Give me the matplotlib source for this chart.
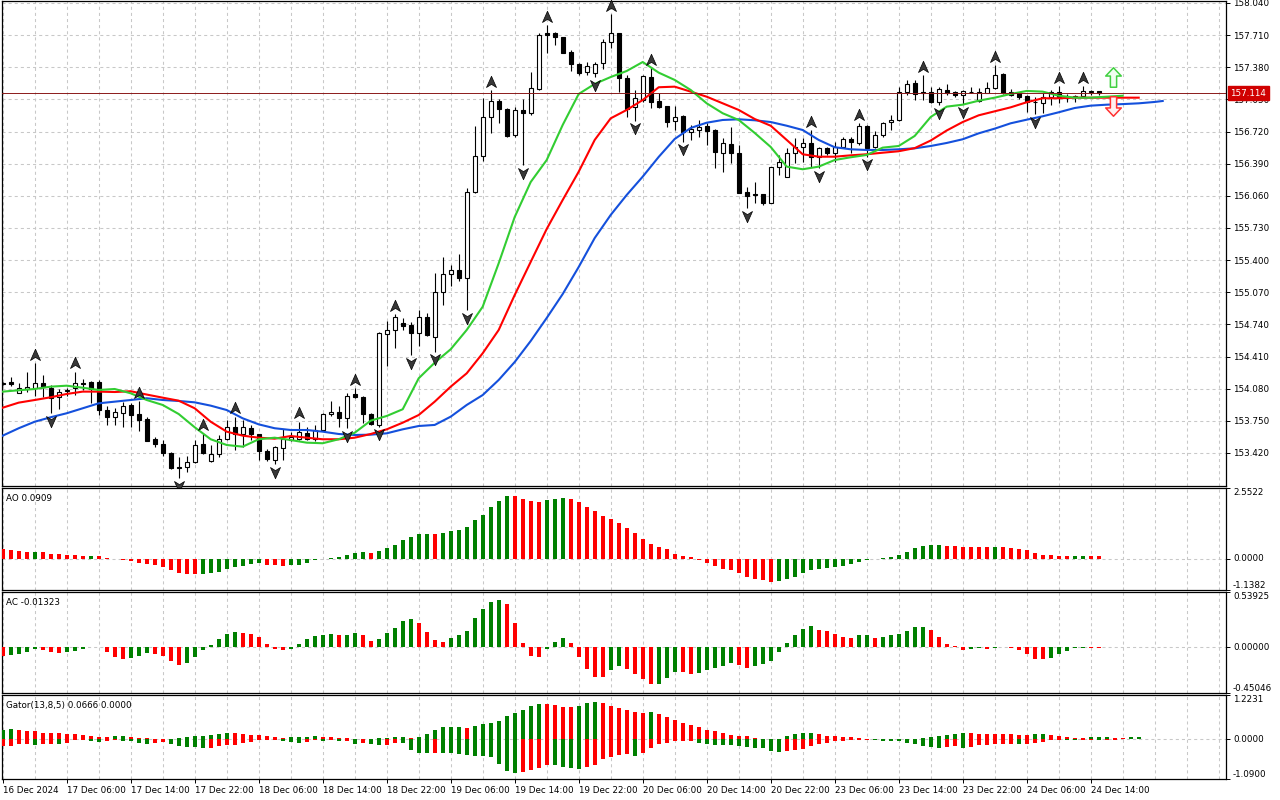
import numpy as np
import matplotlib
matplotlib.use("Agg")
import matplotlib.pyplot as plt
from matplotlib.path import Path
from matplotlib.transforms import ScaledTranslation, blended_transform_factory

plt.rcParams['font.family'] = ['DejaVu Sans']
plt.rcParams['lines.scale_dashes'] = False
FS = 6.3

# ------------------------------------------------------------------ data
time_labels = ["16 Dec 2024", "17 Dec 06:00", "17 Dec 14:00", "17 Dec 22:00", "18 Dec 06:00",
               "18 Dec 14:00", "18 Dec 22:00", "19 Dec 06:00", "19 Dec 14:00", "19 Dec 22:00",
               "20 Dec 06:00", "20 Dec 14:00", "20 Dec 22:00", "23 Dec 06:00", "23 Dec 14:00",
               "23 Dec 22:00", "24 Dec 06:00", "24 Dec 14:00"]
price_ticks = [158.040, 157.710, 157.380, 157.050, 156.720, 156.390, 156.060, 155.730,
               155.400, 155.070, 154.740, 154.410, 154.080, 153.750, 153.420]
bid_price = 157.114

opens = [154.125, 154.152, 154.039, 154.080, 154.084, 154.142, 154.090, 153.992, 154.055, 154.084,
         154.142, 154.146, 154.152, 153.862, 153.787, 153.834, 153.913, 153.821, 153.769, 153.561,
         153.510, 153.418, 153.276, 153.273, 153.331, 153.510, 153.341, 153.407, 153.561, 153.684,
         153.612, 153.674, 153.612, 153.441, 153.350, 153.469, 153.554, 153.561, 153.623, 153.561,
         153.656, 153.818, 153.838, 153.776, 154.023, 153.999, 153.818, 153.708, 154.639, 154.683,
         154.758, 154.734, 154.655, 154.813, 154.614, 155.076, 155.255, 155.299, 155.214, 156.097,
         156.469, 156.867, 157.034, 156.949, 156.685, 156.942, 156.908, 157.154, 157.729, 157.729,
         157.688, 157.534, 157.411, 157.329, 157.318, 157.427, 157.637, 157.729, 157.267, 156.970,
         157.044, 157.284, 157.034, 156.983, 156.832, 156.880, 156.719, 156.736, 156.777, 156.736,
         156.503, 156.589, 156.497, 156.097, 156.079, 156.079, 155.990, 156.353, 156.257, 156.497,
         156.559, 156.600, 156.456, 156.548, 156.503, 156.565, 156.641, 156.600, 156.780, 156.559,
         156.685, 156.815, 156.839, 157.130, 157.216, 157.123, 157.130, 157.021, 157.147, 157.130,
         157.096, 157.130, 157.037, 157.119, 157.171, 157.311, 157.130, 157.113, 157.085, 157.024,
         157.010, 157.072, 157.130, 157.075, 157.075, 157.085, 157.130, 157.137]
highs = [154.150, 154.197, 154.136, 154.252, 154.341, 154.221, 154.118, 154.077, 154.090, 154.255,
         154.177, 154.160, 154.169, 153.903, 153.879, 153.947, 153.930, 153.950, 153.793, 153.587,
         153.554, 153.430, 153.382, 153.389, 153.554, 153.620, 153.502, 153.605, 153.759, 153.793,
         153.759, 153.708, 153.620, 153.458, 153.492, 153.664, 153.639, 153.742, 153.684, 153.708,
         153.830, 153.954, 153.903, 154.033, 154.085, 154.009, 153.828, 154.665, 154.775, 154.847,
         154.803, 154.768, 154.888, 154.854, 155.265, 155.429, 155.350, 155.463, 156.138, 156.777,
         157.062, 157.147, 157.052, 156.959, 156.969, 157.052, 157.335, 157.729, 157.814, 157.739,
         157.691, 157.558, 157.427, 157.438, 157.438, 157.670, 157.927, 157.735, 157.301, 157.147,
         157.301, 157.370, 157.119, 156.985, 156.983, 156.890, 156.788, 156.839, 156.805, 156.744,
         156.651, 156.770, 156.582, 156.154, 156.206, 156.079, 156.360, 156.480, 156.548, 156.651,
         156.651, 156.736, 156.565, 156.565, 156.616, 156.668, 156.668, 156.805, 156.785, 156.729,
         156.822, 156.890, 157.175, 157.250, 157.250, 157.301, 157.181, 157.181, 157.206, 157.137,
         157.147, 157.181, 157.164, 157.232, 157.404, 157.318, 157.154, 157.130, 157.096, 157.072,
         157.113, 157.147, 157.188, 157.106, 157.096, 157.188, 157.147, 157.137]
lows = [154.115, 154.110, 154.033, 154.050, 154.000, 153.992, 153.828, 153.869, 154.000, 154.015,
        154.067, 153.930, 153.810, 153.708, 153.708, 153.684, 153.684, 153.649, 153.543, 153.485,
        153.390, 153.256, 153.160, 153.228, 153.321, 153.410, 153.331, 153.382, 153.554, 153.451,
        153.485, 153.554, 153.350, 153.341, 153.307, 153.350, 153.543, 153.554, 153.554, 153.543,
        153.646, 153.803, 153.690, 153.674, 153.982, 153.731, 153.708, 153.690, 154.316, 154.495,
        154.683, 154.426, 154.519, 154.621, 154.460, 154.940, 155.135, 155.189, 154.888, 156.093,
        156.421, 156.709, 156.811, 156.668, 156.668, 156.377, 156.890, 157.147, 157.524, 157.609,
        157.524, 157.342, 157.301, 157.301, 157.280, 157.360, 157.575, 157.130, 156.873, 156.832,
        157.027, 156.959, 156.959, 156.770, 156.736, 156.616, 156.634, 156.668, 156.582, 156.343,
        156.308, 156.394, 156.090, 155.932, 155.984, 155.966, 155.984, 156.274, 156.251, 156.401,
        156.411, 156.360, 156.343, 156.480, 156.411, 156.548, 156.497, 156.582, 156.462, 156.548,
        156.668, 156.736, 156.832, 157.096, 157.044, 157.044, 157.015, 156.993, 157.096, 157.079,
        157.003, 157.113, 157.027, 157.113, 157.154, 157.106, 157.085, 157.051, 156.924, 156.900,
        156.915, 156.993, 157.010, 157.027, 157.027, 157.079, 157.096, 157.096]
closes = [154.135, 154.125, 154.090, 154.095, 154.142, 154.101, 153.980, 154.050, 154.065, 154.136,
          154.125, 154.074, 153.862, 153.787, 153.838, 153.903, 153.810, 153.759, 153.546, 153.510,
          153.418, 153.263, 153.266, 153.331, 153.502, 153.418, 153.407, 153.564, 153.684, 153.615,
          153.684, 153.612, 153.441, 153.355, 153.480, 153.561, 153.581, 153.633, 153.561, 153.656,
          153.818, 153.838, 153.776, 154.008, 153.999, 153.818, 153.718, 154.655, 154.683, 154.813,
          154.727, 154.655, 154.813, 154.632, 155.070, 155.255, 155.299, 155.214, 156.097, 156.469,
          156.867, 157.034, 156.949, 156.675, 156.942, 156.908, 157.164, 157.712, 157.709, 157.688,
          157.530, 157.411, 157.318, 157.396, 157.414, 157.637, 157.729, 157.273, 156.949, 157.062,
          157.291, 157.027, 156.970, 156.821, 156.873, 156.719, 156.744, 156.764, 156.729, 156.513,
          156.600, 156.497, 156.093, 156.062, 156.066, 155.990, 156.353, 156.411, 156.503, 156.559,
          156.600, 156.456, 156.548, 156.497, 156.565, 156.641, 156.616, 156.780, 156.548, 156.685,
          156.811, 156.839, 157.130, 157.206, 157.106, 157.116, 157.021, 157.154, 157.113, 157.096,
          157.137, 157.130, 157.130, 157.171, 157.301, 157.113, 157.096, 157.072, 157.027, 157.022,
          157.078, 157.130, 157.078, 157.089, 157.085, 157.137, 157.132, 157.114]

fractal_up = [4, 9, 17, 25, 29, 37, 44, 49, 61, 68, 76, 81, 101, 107, 115, 124, 132, 135]
fractal_down = [6, 22, 34, 43, 47, 51, 54, 58, 65, 74, 79, 85, 93, 102, 108, 117, 120, 129]

# Alligator lines (sampled every 2 bars; they run past the last candle by their shift)
lips_x = list(range(0, 141, 2))
lips = [154.050, 154.064, 154.077, 154.101, 154.111, 154.090, 154.067, 154.077, 154.033, 153.964,
        153.913, 153.820, 153.684, 153.561, 153.502, 153.485, 153.561, 153.577, 153.553, 153.526,
        153.520, 153.561, 153.628, 153.752, 153.800, 153.869, 154.187, 154.347, 154.485, 154.683,
        154.922, 155.368, 155.843, 156.202, 156.428, 156.788, 157.106, 157.209, 157.280, 157.342,
        157.434, 157.325, 157.250, 157.147, 157.010, 156.908, 156.839, 156.706, 156.562, 156.360,
        156.333, 156.360, 156.428, 156.456, 156.480, 156.555, 156.572, 156.675, 156.870, 156.976,
        156.996, 157.037, 157.068, 157.106, 157.137, 157.130, 157.088, 157.068, 157.068, 157.078,
        157.088]
teeth_x = list(range(0, 143, 2))
teeth = [153.885, 153.937, 153.964, 153.992, 154.026, 154.050, 154.050, 154.046, 154.054, 154.020,
         153.988, 153.957, 153.879, 153.741, 153.639, 153.598, 153.577, 153.567, 153.594, 153.577,
         153.561, 153.561, 153.577, 153.615, 153.663, 153.731, 153.810, 153.947, 154.101, 154.238,
         154.444, 154.683, 155.042, 155.382, 155.720, 156.018, 156.308, 156.634, 156.856, 156.942,
         157.044, 157.175, 157.181, 157.130, 157.078, 157.010, 156.942, 156.849, 156.780, 156.634,
         156.487, 156.462, 156.462, 156.476, 156.487, 156.503, 156.518, 156.550, 156.628, 156.731,
         156.818, 156.887, 156.928, 156.969, 157.021, 157.062, 157.062, 157.068, 157.068, 157.068,
         157.068, 157.068]
jaw_x = list(range(0, 145, 2)) + [145]
jaw = [153.598, 153.674, 153.741, 153.787, 153.828, 153.879, 153.930, 153.947, 153.964, 153.982,
       153.964, 153.954, 153.940, 153.906, 153.861, 153.776, 153.714, 153.674, 153.656, 153.656,
       153.639, 153.615, 153.605, 153.608, 153.622, 153.663, 153.697, 153.708, 153.793, 153.913,
       154.015, 154.170, 154.354, 154.570, 154.806, 155.052, 155.330, 155.627, 155.864, 156.069,
       156.257, 156.460, 156.644, 156.757, 156.811, 156.839, 156.846, 156.836, 156.818, 156.780,
       156.736, 156.634, 156.559, 156.538, 156.531, 156.531, 156.538, 156.548, 156.572, 156.603,
       156.641, 156.702, 156.750, 156.805, 156.842, 156.877, 156.918, 156.962, 156.986, 156.996,
       157.002, 157.010, 157.024, 157.034]

# Awesome Oscillator
ao_values = [0.340, 0.316, 0.280, 0.243, 0.245, 0.242, 0.170, 0.168, 0.134, 0.132,
             0.097, 0.099, 0.095, 0.024, -0.012, -0.036, -0.097, -0.158, -0.194, -0.219,
             -0.304, -0.413, -0.510, -0.545, -0.550, -0.548, -0.510, -0.474, -0.365, -0.290,
             -0.255, -0.180, -0.175, -0.220, -0.225, -0.255, -0.250, -0.220, -0.146, -0.060,
             -0.024, 0.024, 0.060, 0.134, 0.207, 0.243, 0.207, 0.280, 0.390, 0.500,
             0.680, 0.790, 0.887, 0.890, 0.885, 0.935, 1.010, 1.045, 1.154, 1.385,
             1.590, 1.847, 2.066, 2.248, 2.245, 2.140, 2.066, 2.030, 2.100, 2.140,
             2.175, 2.140, 2.050, 1.850, 1.710, 1.550, 1.430, 1.280, 1.100, 0.940,
             0.720, 0.540, 0.430, 0.330, 0.180, 0.100, 0.040, -0.040, -0.150, -0.260,
             -0.370, -0.400, -0.510, -0.670, -0.730, -0.770, -0.850, -0.800, -0.730, -0.660,
             -0.520, -0.430, -0.380, -0.330, -0.290, -0.260, -0.180, -0.120, -0.050, -0.020,
             0.005, 0.050, 0.130, 0.240, 0.370, 0.440, 0.500, 0.505, 0.460, 0.455,
             0.430, 0.425, 0.420, 0.415, 0.420, 0.415, 0.390, 0.350, 0.320, 0.210,
             0.130, 0.125, 0.100, 0.095, 0.098, 0.102, 0.097, 0.0909]
ao_colors = ("rrrrgrrrrr" "rgrrrrrrrr" "rrrrrggggg" "gggrrrgggg" "ggggggrggg"
             "ggggrggggg" "ggggrrrrgg" "grrrrrrrrr" "rrrrrrrrrr" "rrrrrrrggg"
             "gggggggggg" "ggggggggrr" "rrrrgrrrrr" "rrrrggrr")

# Accelerator Oscillator
ac_values = [-0.083, -0.080, -0.073, -0.053, -0.020, -0.025, -0.053, -0.055, -0.050, -0.043,
             -0.020, -0.004, -0.002, -0.053, -0.093, -0.113, -0.103, -0.083, -0.063, -0.073,
             -0.083, -0.133, -0.173, -0.153, -0.093, -0.033, 0.020, 0.077, 0.127, 0.147,
             0.137, 0.127, 0.097, 0.027, -0.020, -0.033, -0.020, 0.027, 0.077, 0.107,
             0.117, 0.127, 0.117, 0.118, 0.137, 0.117, 0.057, 0.077, 0.137, 0.183,
             0.253, 0.273, 0.233, 0.147, 0.067, 0.047, 0.087, 0.117, 0.157, 0.283,
             0.373, 0.446, 0.463, 0.426, 0.236, 0.037, -0.083, -0.093, -0.023, 0.047,
             0.090, 0.035, -0.093, -0.213, -0.293, -0.295, -0.227, -0.183, -0.213, -0.263,
             -0.313, -0.363, -0.360, -0.303, -0.243, -0.245, -0.263, -0.253, -0.223, -0.203,
             -0.183, -0.153, -0.173, -0.203, -0.183, -0.163, -0.133, -0.053, 0.043, 0.117,
             0.180, 0.203, 0.163, 0.153, 0.123, 0.103, 0.093, 0.117, 0.120, 0.093,
             0.103, 0.113, 0.127, 0.160, 0.193, 0.195, 0.163, 0.103, 0.033, 0.007,
             -0.033, -0.020, -0.013, -0.016, -0.005, -0.003, -0.013, -0.033, -0.073, -0.120,
             -0.122, -0.103, -0.073, -0.043, -0.013, -0.007, -0.010, -0.01323]
ac_colors = ("rggggrrrgg" "gggrrrgggr" "rrrggggggg" "rrrrrrgggg" "ggrggrrggg"
             "ggrrrrgggg" "gggrrrrrgg" "grrrrrggrr" "rrgggrrggg" "ggrrgggggg"
             "ggrrrrrggr" "ggggggrrrr" "rggrggrrrr" "rgggggrr")

# Gator oscillator (upper = |jaw - teeth|, lower = -|teeth - lips|)
gator_up = [0.273, 0.275, 0.270, 0.226, 0.225, 0.188, 0.187, 0.186, 0.160, 0.159,
            0.132, 0.094, 0.075, 0.056, 0.103, 0.104, 0.056, 0.028, 0.027, 0.005,
            0.004, 0.008, 0.047, 0.066, 0.085, 0.103, 0.132, 0.160, 0.188, 0.186,
            0.150, 0.132, 0.113, 0.085, 0.066, 0.047, 0.056, 0.066, 0.075, 0.103,
            0.075, 0.056, 0.047, 0.028, 0.019, 0.018, 0.017, 0.047, 0.048, 0.075,
            0.076, 0.047, 0.075, 0.160, 0.273, 0.329, 0.330, 0.331, 0.328, 0.357,
            0.414, 0.442, 0.498, 0.639, 0.724, 0.808, 0.921, 0.978, 0.975, 0.949,
            0.893, 0.890, 0.921, 1.006, 1.034, 1.006, 0.921, 0.865, 0.808, 0.752,
            0.724, 0.752, 0.696, 0.611, 0.526, 0.442, 0.385, 0.329, 0.254, 0.226,
            0.169, 0.113, 0.085, 0.084, 0.047, 0.019, 0.009, 0.008, 0.094, 0.150,
            0.169, 0.188, 0.141, 0.103, 0.085, 0.056, 0.055, 0.028, 0.019, 0.018,
            0.009, 0.010, 0.019, 0.009, 0.008, 0.028, 0.075, 0.085, 0.132, 0.160,
            0.188, 0.169, 0.160, 0.159, 0.158, 0.157, 0.156, 0.132, 0.131, 0.160,
            0.161, 0.113, 0.085, 0.066, 0.047, 0.046, 0.056, 0.057, 0.058, 0.047,
            0.046, 0.056, 0.0666]
gator_down = [-0.188, -0.169, -0.122, -0.121, -0.150, -0.122, -0.121, -0.123, -0.094, -0.028,
              -0.027, -0.038, -0.066, -0.047, -0.028, -0.030, -0.056, -0.094, -0.113, -0.085,
              -0.084, -0.113, -0.169, -0.198, -0.207, -0.244, -0.243, -0.188, -0.141, -0.140,
              -0.094, -0.075, -0.028, -0.027, -0.019, -0.038, -0.075, -0.085, -0.084, -0.019,
              -0.038, -0.028, -0.047, -0.046, -0.113, -0.112, -0.122, -0.141, -0.140, -0.085,
              -0.094, -0.282, -0.367, -0.385, -0.366, -0.367, -0.368, -0.404, -0.433, -0.451,
              -0.452, -0.480, -0.677, -0.874, -0.931, -0.902, -0.846, -0.790, -0.705, -0.706,
              -0.761, -0.790, -0.818, -0.761, -0.705, -0.536, -0.479, -0.423, -0.395, -0.451,
              -0.367, -0.226, -0.113, -0.085, -0.056, -0.055, -0.047, -0.085, -0.113, -0.141,
              -0.142, -0.143, -0.169, -0.197, -0.226, -0.227, -0.310, -0.338, -0.310, -0.282,
              -0.254, -0.169, -0.113, -0.085, -0.056, -0.055, -0.028, -0.019, -0.009, -0.028,
              -0.047, -0.048, -0.056, -0.085, -0.113, -0.169, -0.197, -0.226, -0.197, -0.188,
              -0.226, -0.197, -0.141, -0.140, -0.139, -0.138, -0.137, -0.138, -0.137, -0.085,
              -0.084, -0.028, -0.019, -0.028, -0.029, -0.019, -0.018, -0.019, -0.018, -0.010,
              0.0]

ao_range = (-1.1382, 2.5522)
ac_range = (-0.45046, 0.53925)
gator_range = (-1.0900, 1.2231)
ao_axis_labels = ["2.5522", "0.0000", "-1.1382"]
ac_axis_labels = ["0.53925", "0.00000", "-0.45046"]
gator_axis_labels = ["1.2231", "0.0000", "-1.0900"]
ao_title = "AO 0.0909"
ac_title = "AC -0.01323"
gator_title = "Gator(13,8,5) 0.0666 0.0000"

# ------------------------------------------------------------------ style
GREEN_BAR = '#008000'
RED_BAR = '#FF0000'
JAW_C = '#1450DC'
TEETH_C = '#FF0000'
LIPS_C = '#32CD32'
GRID_C = '#c8c8c8'
DASH = (0, (2.2, 2.2))

W, H = 1280, 800
fig = plt.figure(figsize=(12.8, 8.0), dpi=100)
fig.patch.set_facecolor('white')


def add_ax(top, bottom, left=2, right=1226):
    return fig.add_axes([left / W, 1 - bottom / H, (right - left) / W, (bottom - top) / H])


ax_main = add_ax(1, 486)
ax_ao = add_ax(488, 590)
ax_ac = add_ax(592, 693)
ax_gt = add_ax(695, 779)

XL = ((2 - 2.7) / 8.0, (1226 - 2.7) / 8.0)
grid_pos = np.arange(0, 153, 4)

for ax in (ax_main, ax_ao, ax_ac, ax_gt):
    ax.set_xlim(*XL)
    for s in ax.spines.values():
        s.set_color('black')
        s.set_linewidth(0.9)
    for gx in grid_pos:
        ax.axvline(gx, color=GRID_C, lw=0.75, ls=DASH, zorder=0)
    ax.yaxis.tick_right()
    ax.tick_params(axis='y', length=3, width=0.7, labelsize=FS, pad=2, colors='black')
    ax.tick_params(axis='x', bottom=False, labelbottom=False)

# ------------------------------------------------------------------ main panel
ax = ax_main
ax.set_ylim(158.04 - (486 - 3) / 97.4, 158.04 - (1 - 3) / 97.4)
ax.set_yticks(price_ticks)
ax.set_yticklabels([f"{p:.3f}" for p in price_ticks])
for p in price_ticks:
    ax.axhline(p, color=GRID_C, lw=0.75, ls=DASH, zorder=0)

o = np.array(opens); h = np.array(highs); l = np.array(lows); c = np.array(closes)
idx = np.arange(len(o))
bull = c >= o
body_lo = np.minimum(o, c)
body_h = np.abs(c - o)
ax.vlines(idx, l, h, color='black', lw=0.8, zorder=2)
ax.bar(idx[bull], body_h[bull], bottom=body_lo[bull], width=0.55, facecolor='white',
       edgecolor='black', linewidth=0.8, zorder=3)
ax.bar(idx[~bull], body_h[~bull], bottom=body_lo[~bull], width=0.55, facecolor='black',
       edgecolor='black', linewidth=0.8, zorder=3)

ax.plot(jaw_x, jaw, color=JAW_C, lw=1.5, zorder=4, solid_joinstyle='round')
ax.plot(teeth_x, teeth, color=TEETH_C, lw=1.5, zorder=4, solid_joinstyle='round')
ax.plot(lips_x, lips, color=LIPS_C, lw=1.5, zorder=4, solid_joinstyle='round')

ax.axhline(bid_price, color='#8b1a1a', lw=0.7, zorder=5)

# fractal arrowheads
fr_verts = [(0, 1), (0.8, -0.8), (0, -0.3), (-0.8, -0.8), (0, 1)]
fr_codes = [Path.MOVETO, Path.LINETO, Path.LINETO, Path.LINETO, Path.CLOSEPOLY]
up_mark = Path(fr_verts, fr_codes)
dn_mark = Path([(x, -y) for x, y in fr_verts], fr_codes)
t_up = ax.transData + ScaledTranslation(0, 6.0 / 72, fig.dpi_scale_trans)
t_dn = ax.transData + ScaledTranslation(0, -5.5 / 72, fig.dpi_scale_trans)
ax.plot(fractal_up, h[fractal_up], ls='none', marker=up_mark, ms=9, mfc='#383838',
        mec='#000000', mew=0.5, transform=t_up, zorder=6, clip_on=False)
ax.plot(fractal_down, l[fractal_down], ls='none', marker=dn_mark, ms=9, mfc='#383838',
        mec='#000000', mew=0.5, transform=t_dn, zorder=6, clip_on=False)

# signal arrows next to the last bar
arr_verts = [(0, 1), (0.8, 0.15), (0.32, 0.15), (0.32, -1), (-0.32, -1), (-0.32, 0.15),
             (-0.8, 0.15), (0, 1)]
arr_codes = [Path.MOVETO] + [Path.LINETO] * 6 + [Path.CLOSEPOLY]
arr_up = Path(arr_verts, arr_codes)
arr_dn = Path([(x, -y) for x, y in arr_verts], arr_codes)
sig_x = len(o) - 1 + 1.8
ax.plot([sig_x], [bid_price], ls='none', marker=arr_up, ms=14, mfc='#f0fff0', mec='#40d040',
        mew=1.1, zorder=7, transform=ax.transData + ScaledTranslation(0, 11.5 / 72, fig.dpi_scale_trans))
ax.plot([sig_x], [bid_price], ls='none', marker=arr_dn, ms=14, mfc='#fff0f0', mec='#ff3030',
        mew=1.1, zorder=7, transform=ax.transData + ScaledTranslation(0, -9.5 / 72, fig.dpi_scale_trans))

ax.annotate(f"{bid_price:.3f}", xy=(1, bid_price), xycoords=('axes fraction', 'data'),
            xytext=(3, 0), textcoords='offset points', ha='left', va='center', color='white',
            fontsize=FS, annotation_clip=False, zorder=20,
            bbox=dict(boxstyle='square,pad=0.3', fc='#d00000', ec='#d00000'))


# ------------------------------------------------------------------ sub panels
def setup_sub(ax, rng, labels, title):
    lo, hi = rng
    ax.set_ylim(lo, hi)
    ax.set_yticks([hi, 0.0, lo])
    ax.set_yticklabels(["", "", ""])
    bt = blended_transform_factory(ax.transAxes, ax.transData)
    for v, lab, va in zip([hi, 0.0, lo], labels, ['top', 'center', 'bottom']):
        ax.annotate(lab, xy=(1, v), xycoords=bt, xytext=(5, 0), textcoords='offset points',
                    ha='left', va=va, fontsize=FS, annotation_clip=False)
    ax.axhline(0, color=GRID_C, lw=0.75, ls=DASH, zorder=1)
    ax.annotate(title, xy=(0, 1), xycoords='axes fraction', xytext=(3, -4),
                textcoords='offset points', ha='left', va='top', fontsize=FS)


def code_to_color(codes):
    return [GREEN_BAR if ch == 'g' else RED_BAR for ch in codes]


setup_sub(ax_ao, ao_range, ao_axis_labels, ao_title)
ax_ao.bar(np.arange(len(ao_values)), ao_values, width=0.5, color=code_to_color(ao_colors), zorder=3)

setup_sub(ax_ac, ac_range, ac_axis_labels, ac_title)
ax_ac.bar(np.arange(len(ac_values)), ac_values, width=0.5, color=code_to_color(ac_colors), zorder=3)

setup_sub(ax_gt, gator_range, gator_axis_labels, gator_title)
gu = np.array(gator_up)
gd = np.array(gator_down)
gu_col = [GREEN_BAR] + [GREEN_BAR if gu[i] > gu[i - 1] else RED_BAR for i in range(1, len(gu))]
gd_col = [RED_BAR] + [GREEN_BAR if abs(gd[i]) > abs(gd[i - 1]) else RED_BAR for i in range(1, len(gd))]
ax_gt.bar(np.arange(len(gu)), gu, width=0.5, color=gu_col, zorder=3)
ax_gt.bar(np.arange(len(gd)), gd, width=0.5, color=gd_col, zorder=3)

# time axis
time_idx = list(range(0, 8 * len(time_labels), 8))
ax_gt.tick_params(axis='x', bottom=True, labelbottom=True, length=3, width=0.7,
                  labelsize=FS, pad=2, direction='out')
ax_gt.set_xticks(time_idx)
ax_gt.set_xticklabels(time_labels, ha='left')

fig.savefig("out.png", dpi=100, facecolor='white')
